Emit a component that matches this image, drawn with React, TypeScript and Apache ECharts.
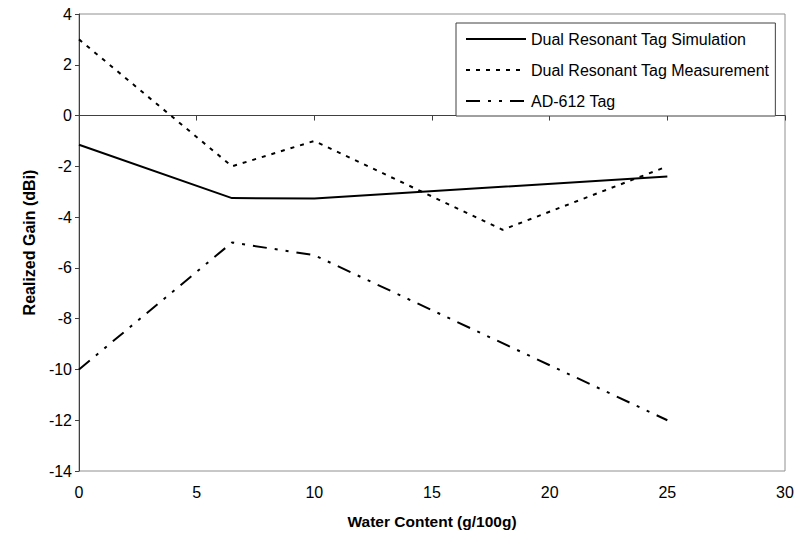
import React, { useEffect, useRef } from "react";
import * as echarts from "echarts";

const waterContent = [0, 6.5, 10, 25];
const measurementX = [0, 6.5, 10, 18, 25];
const simulation = [-1.15, -3.25, -3.27, -2.4];
const measurement = [3, -2, -1, -4.5, -2];
const ad612 = [-10, -5, -5.5, -12];

const seriesNames = [
  "Dual Resonant Tag Simulation",
  "Dual Resonant Tag Measurement",
  "AD-612 Tag",
];

const pair = (xs: number[], ys: number[]) => xs.map((x, i) => [x, ys[i]]);

export default function App() {
  const ref = useRef<HTMLDivElement>(null);
  useEffect(() => {
    if (!ref.current) return;
    const chart = echarts.init(ref.current, null, { renderer: "svg" });
    const font = "Liberation Sans, Arial, sans-serif";
    chart.setOption({
      animation: false,
      backgroundColor: "#ffffff",
      textStyle: { fontFamily: font },
      grid: {
        left: 79,
        right: 15,
        top: 14,
        bottom: 60,
        show: true,
        borderColor: "#909090",
        borderWidth: 1,
      },
      legend: {
        orient: "vertical",
        left: 456,
        top: 23,
        padding: [8, 6, 7, 9],
        itemGap: 15,
        itemWidth: 60,
        itemHeight: 17,
        borderColor: "#404040",
        borderWidth: 1,
        backgroundColor: "#ffffff",
        itemStyle: { color: "rgba(0,0,0,0)", borderWidth: 0, opacity: 0 },
        textStyle: { fontSize: 16, color: "#000", fontFamily: font },
        data: seriesNames,
      },
      xAxis: {
        type: "value",
        min: 0,
        max: 30,
        interval: 5,
        name: "Water Content (g/100g)",
        nameLocation: "middle",
        nameGap: 42,
        nameTextStyle: { fontSize: 15.5, fontWeight: "bold", color: "#000", fontFamily: font },
        axisLine: { lineStyle: { color: "#404040", width: 1 } },
        axisTick: { show: true, length: 5, inside: false, lineStyle: { color: "#404040" } },
        axisLabel: { fontSize: 16, color: "#000", margin: 13, fontFamily: font },
        splitLine: { show: false },
      },
      yAxis: {
        type: "value",
        min: -14,
        max: 4,
        interval: 2,
        name: "Realized Gain (dBi)",
        nameLocation: "middle",
        nameGap: 40,
        nameRotate: 90,
        nameTextStyle: { fontSize: 16, fontWeight: "bold", color: "#000", fontFamily: font },
        axisLine: { show: true, lineStyle: { color: "#404040", width: 1 } },
        axisTick: { show: true, length: 4, inside: false, lineStyle: { color: "#404040" } },
        axisLabel: { fontSize: 16, color: "#000", margin: 7, fontFamily: font },
        splitLine: { show: false },
      },
      series: [
        {
          name: seriesNames[0],
          type: "line",
          data: pair(waterContent, simulation),
          symbol: "none",
          color: "#000",
          lineStyle: { color: "#000", width: 2, type: "solid" },
        },
        {
          name: seriesNames[1],
          type: "line",
          data: pair(measurementX, measurement),
          symbol: "none",
          color: "#000",
          lineStyle: { color: "#000", width: 2, type: [4, 6] },
        },
        {
          name: seriesNames[2],
          type: "line",
          data: pair(waterContent, ad612),
          symbol: "none",
          color: "#000",
          lineStyle: { color: "#000", width: 2, type: [14, 8, 3, 8, 3, 8] },
        },
      ],
    });
    return () => chart.dispose();
  }, []);
  return <div ref={ref} style={{ width: 800, height: 534, position: "absolute", left: 0, top: 0 }} />;
}
